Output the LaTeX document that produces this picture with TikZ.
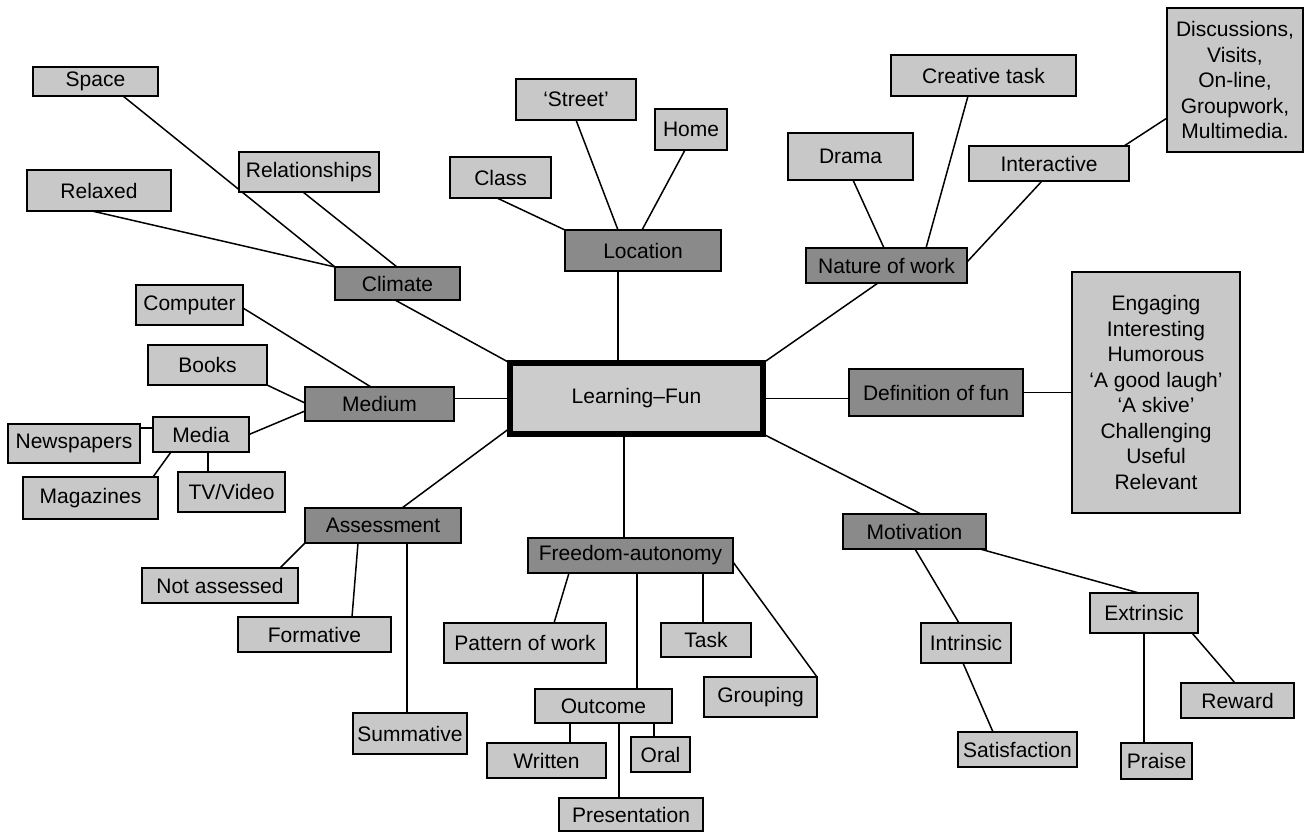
\documentclass[tikz,border=0pt]{standalone}
\usepackage{fontspec}
\setmainfont{Liberation Sans}
\usetikzlibrary{calc,backgrounds}
\definecolor{lightbox}{HTML}{C8C8C8}
\definecolor{darkbox}{HTML}{8A8A8A}
\definecolor{centerbox}{HTML}{CCCCCC}
\newcommand\bx[7]{%
  \pgfmathsetmacro\bxcx{(#3+#5)/2}%
  \pgfmathsetmacro\bxcy{(#4+#6)/2}%
  \pgfmathsetmacro\bxw{#5-#3}%
  \pgfmathsetmacro\bxh{#6-#4}%
  \node[#1, minimum width=\bxw pt, minimum height=\bxh pt] (#2) at (\bxcx,\bxcy) {#7};}
\begin{document}
\begin{tikzpicture}[x=1pt,y=-1pt,
  box/.style={rectangle, inner sep=0pt, outer sep=0pt, align=center,
    font=\fontsize{21}{25.5}\selectfont},
  lbox/.style={box, draw=black, line width=1.7pt, fill=lightbox},
  dbox/.style={box, draw=black, line width=2.8pt, fill=darkbox},
  cbox/.style={box, draw=black, line width=5.5pt, fill=centerbox},
  link/.style={draw=black, line width=1.5pt}]
\useasboundingbox (0,0) rectangle (1305,832);
% nodes
\bx{lbox}{space}{33}{67}{158}{96}{Space}
\bx{lbox}{relaxed}{27}{170}{171}{211}{Relaxed}
\bx{lbox}{relat}{239}{152}{379}{192}{Relationships}
\bx{dbox}{climate}{335}{267}{460}{300}{Climate}
\bx{lbox}{computer}{136}{285}{243}{325}{Computer}
\bx{lbox}{books}{148}{345}{267}{385}{Books}
\bx{dbox}{medium}{305}{387}{454}{421}{Medium}
\bx{lbox}{media}{153}{417}{249}{452}{Media}
\bx{lbox}{news}{8}{424}{140}{463}{Newspapers}
\bx{lbox}{mag}{23}{477}{158}{519}{Magazines}
\bx{lbox}{tv}{178}{472}{285}{512}{TV/Video}
\bx{dbox}{assess}{305}{508}{461}{543}{Assessment}
\bx{lbox}{notass}{142}{568}{298}{603}{Not assessed}
\bx{lbox}{form}{238}{617}{391}{652}{Formative}
\bx{lbox}{summ}{353}{713}{467}{754}{Summative}
\bx{cbox}{center}{510}{363}{763}{434}{Learning–Fun}
\bx{dbox}{location}{565}{230}{721}{271}{Location}
\bx{lbox}{street}{516}{79}{636}{120}{‘Street’}
\bx{lbox}{home}{655}{109}{727}{150}{Home}
\bx{lbox}{class}{450}{157}{551}{198}{Class}
\bx{lbox}{creative}{891}{55}{1076}{96}{Creative task}
\bx{lbox}{drama}{788}{133}{913}{180}{Drama}
\bx{lbox}{inter}{969}{146}{1129}{181}{Interactive}
\bx{lbox}{disc}{1167}{8}{1303}{152}{Discussions,\\Visits,\\On-line,\\Groupwork,\\Multimedia.}
\bx{dbox}{nature}{806}{248}{967}{283}{Nature of work}
\bx{dbox}{def}{849}{369}{1023}{416}{Definition of fun}
\bx{lbox}{list}{1072}{272}{1240}{513}{Engaging\\Interesting\\Humorous\\‘A good laugh’\\‘A skive’\\Challenging\\Useful\\Relevant}
\bx{dbox}{motiv}{843}{514}{986}{549}{Motivation}
\bx{lbox}{intr}{921}{623}{1011}{663}{Intrinsic}
\bx{lbox}{extr}{1090}{593}{1198}{633}{Extrinsic}
\bx{lbox}{satis}{958}{732}{1077}{767}{Satisfaction}
\bx{lbox}{reward}{1181}{683}{1294}{718}{Reward}
\bx{lbox}{praise}{1121}{743}{1192}{779}{Praise}
\bx{dbox}{freedom}{528}{538}{733}{573}{Freedom-autonomy}
\bx{lbox}{pattern}{444}{623}{606}{663}{Pattern of work}
\bx{lbox}{task}{661}{623}{751}{657}{Task}
\bx{lbox}{grouping}{704}{677}{817}{717}{Grouping}
\bx{lbox}{outcome}{535}{689}{672}{723}{Outcome}
\bx{lbox}{written}{487}{743}{606}{778}{Written}
\bx{lbox}{oral}{631}{737}{690}{772}{Oral}
\bx{lbox}{present}{559}{798}{703}{831}{Presentation}
% connectors
\begin{scope}[on background layer]
\draw[link] ($(space.south west)+(90,0)$) -- (climate.north west);
\draw[link] ($(relaxed.south west)+(65,0)$) -- (climate.north west);
\draw[link] ($(relat.south west)+(64,0)$) -- ($(climate.north west)+(62,0)$);
\draw[link] ($(climate.south west)+(60,0)$) -- (center.north west);
\draw[link] ($(computer.east)+(0,3)$) -- ($(medium.north west)+(66,0)$);
\draw[link] (books.south east) -- ($(medium.west)+(0,-1)$);
\draw[link] (media.east) -- ($(medium.west)+(0,7)$);
\draw[link] (center.west) -- (center.west -| medium.east);
\draw[link] ($(media.north west)+(0,11)$) coordinate (m1) -- (m1 -| news.east);
\draw[link] ($(media.south west)+(18,0)$) -- ($(mag.north east)+(-5,0)$);
\draw[link] ($(media.south west)+(55,0)$) coordinate (m2) -- (m2 |- tv.north);
\draw[link] ($(assess.north west)+(97,0)$) -- ($(center.south west)+(0,-6)$);
\draw[link] (assess.south west) -- ($(notass.north west)+(138,0)$);
\draw[link] ($(assess.south west)+(53,0)$) -- ($(form.north west)+(114,0)$);
\draw[link] ($(assess.south west)+(102,0)$) coordinate (a3) -- (a3 |- summ.north);
\draw[link] ($(class.south west)+(47,0)$) -- (location.north west);
\draw[link] ($(street.south west)+(60,0)$) -- ($(location.north west)+(53,0)$);
\draw[link] ($(home.south west)+(30,0)$) -- ($(location.north west)+(77,0)$);
\draw[link] ($(location.south west)+(53,0)$) coordinate (l1) -- (l1 |- center.north);
\draw[link] ($(drama.south west)+(65,0)$) -- ($(nature.north west)+(78,0)$);
\draw[link] ($(creative.south west)+(77,0)$) -- ($(nature.north west)+(120,0)$);
\draw[link] ($(inter.south west)+(73,0)$) -- ($(nature.north east)+(0,14)$);
\draw[link] ($(inter.north east)+(-5,0)$) -- ($(disc.north west)+(0,110)$);
\draw[link] ($(nature.south west)+(72,0)$) -- (center.north east);
\draw[link] (center.east) -- (center.east -| def.west);
\draw[link] (def.east) -- (def.east -| list.west);
\draw[link] (center.south east) -- ($(motiv.north west)+(78,0)$);
\draw[link] ($(motiv.south west)+(72,0)$) -- ($(intr.north west)+(38,0)$);
\draw[link] ($(motiv.south east)+(-6,0)$) -- ($(extr.north west)+(49,0)$);
\draw[link] ($(intr.south west)+(42,0)$) -- ($(satis.north west)+(35,0)$);
\draw[link] ($(extr.south west)+(54,0)$) coordinate (e1) -- (e1 |- praise.north);
\draw[link] ($(extr.south east)+(-6,0)$) -- ($(reward.north west)+(54,0)$);
\draw[link] ($(center.south west)+(114,0)$) coordinate (c1) -- (c1 |- freedom.north);
\draw[link] ($(freedom.south west)+(41,0)$) -- ($(pattern.north west)+(110,0)$);
\draw[link] ($(freedom.south west)+(109,0)$) coordinate (f2) -- (f2 |- outcome.north);
\draw[link] ($(freedom.south west)+(175,0)$) coordinate (f3) -- (f3 |- task.north);
\draw[link] ($(freedom.north east)+(0,24)$) -- (grouping.north east);
\draw[link] ($(outcome.south west)+(35,0)$) coordinate (o1) -- (o1 |- written.north);
\draw[link] ($(outcome.south west)+(119,0)$) coordinate (o2) -- (o2 |- oral.north);
\draw[link] ($(outcome.south west)+(84,0)$) coordinate (o3) -- (o3 |- present.north);
\end{scope}
\end{tikzpicture}
\end{document}
